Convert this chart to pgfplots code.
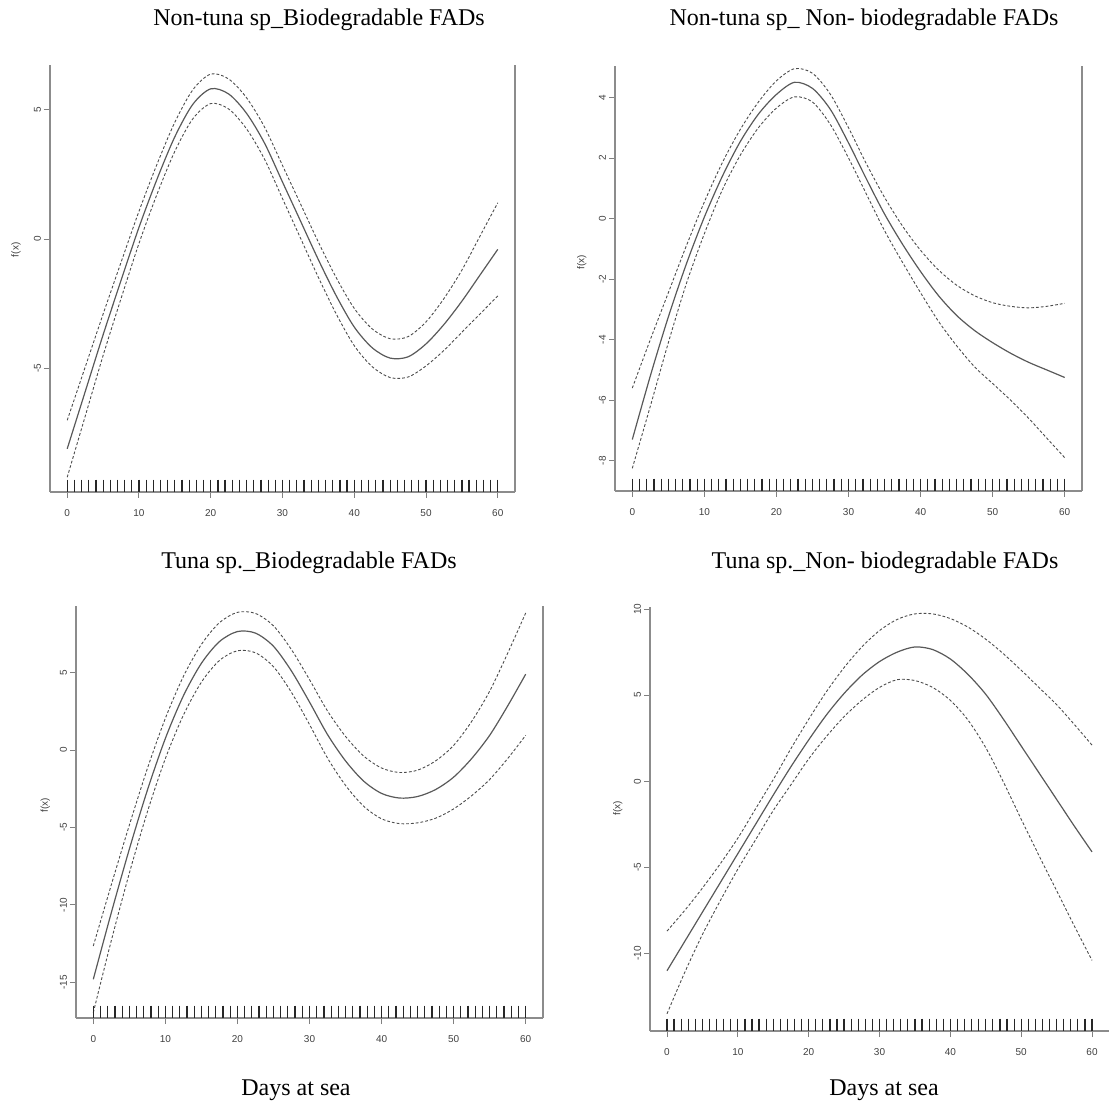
\documentclass[border=0pt]{standalone}
\usepackage{fontspec}
\setmainfont{Liberation Serif}
\newfontfamily\tickfont{Liberation Sans}
\usepackage{pgfplots}
\pgfplotsset{compat=1.18}
\usepackage{pgfplotstable}

% smooth term of days at sea: x, fit, upper and lower band
\pgfplotstableread{
x fit up lo
0 -8.1 -7.0 -9.2
2.5 -5.9 -4.95 -6.85
5 -3.7 -2.9 -4.5
7.5 -1.6 -0.9 -2.3
10 0.45 1.07 -0.17
12.5 2.3 2.88 1.72
15 3.95 4.51 3.39
17.5 5.2 5.76 4.64
20 5.8 6.37 5.23
22.5 5.6 6.18 5.02
25 4.85 5.45 4.25
27.5 3.7 4.32 3.08
30 2.2 2.84 1.56
32.5 0.7 1.36 0.04
35 -0.8 -0.12 -1.48
37.5 -2.2 -1.5 -2.9
40 -3.4 -2.68 -4.12
42.5 -4.2 -3.47 -4.93
45 -4.6 -3.85 -5.35
47.5 -4.55 -3.77 -5.33
50 -4.05 -3.2 -4.9
52.5 -3.3 -2.3 -4.3
55 -2.4 -1.2 -3.6
57.5 -1.4 0.1 -2.9
60 -0.4 1.4 -2.2
}\nontunabio

\pgfplotstableread{
x fit up lo
0 -7.3 -5.6 -8.25
2.5 -5.2 -4.0 -6.2
5 -3.25 -2.45 -4.1
7.5 -1.5 -0.9 -2.15
10 0.05 0.55 -0.5
12.5 1.4 1.85 0.95
15 2.55 2.95 2.1
17.5 3.45 3.85 3.0
20 4.1 4.55 3.65
22.5 4.5 4.95 4.02
25 4.3 4.8 3.85
27.5 3.6 4.1 3.1
30 2.5 3.0 2.0
32.5 1.3 1.8 0.8
35 0.15 0.7 -0.4
37.5 -0.85 -0.25 -1.45
40 -1.75 -1.05 -2.45
42.5 -2.55 -1.7 -3.4
45 -3.2 -2.2 -4.2
47.5 -3.7 -2.55 -4.9
50 -4.1 -2.78 -5.45
52.5 -4.45 -2.9 -6.0
55 -4.75 -2.95 -6.6
57.5 -5.0 -2.9 -7.25
60 -5.25 -2.8 -7.9
}\nontunanon

\pgfplotstableread{
x fit up lo
0 -14.8 -12.65 -16.95
2.5 -10.5 -8.7 -12.3
5 -6.4 -4.85 -7.95
7.5 -2.6 -1.2 -4.0
10 0.75 2.05 -0.55
12.5 3.5 4.75 2.25
15 5.6 6.82 4.38
17.5 7.0 8.22 5.78
20 7.65 8.89 6.41
22.5 7.55 8.82 6.28
25 6.7 8.02 5.38
27.5 5.1 6.48 3.72
30 3.1 4.55 1.65
32.5 1.0 2.52 -0.52
35 -0.7 0.88 -2.28
37.5 -2.0 -0.38 -3.62
40 -2.8 -1.16 -4.44
42.5 -3.1 -1.45 -4.75
45 -3.0 -1.3 -4.7
47.5 -2.55 -0.7 -4.4
50 -1.75 0.3 -3.8
52.5 -0.55 1.85 -2.95
55 0.95 3.8 -1.9
57.5 2.85 6.25 -0.55
60 4.9 8.85 0.95
}\tunabio

\pgfplotstableread{
x fit up lo
0 -11.0 -8.7 -13.5
2.5 -9.3 -7.5 -11.1
5 -7.6 -6.2 -8.9
7.5 -5.9 -4.8 -6.95
10 -4.2 -3.3 -5.1
12.5 -2.5 -1.6 -3.4
15 -0.8 0.1 -1.7
17.5 0.85 1.9 -0.2
20 2.4 3.6 1.3
22.5 3.85 5.2 2.6
25 5.1 6.6 3.75
27.5 6.15 7.8 4.7
30 6.95 8.75 5.45
32.5 7.5 9.4 5.9
35 7.8 9.72 5.85
37.5 7.65 9.72 5.45
40 7.1 9.45 4.7
42.5 6.2 8.95 3.55
45 5.05 8.25 1.95
47.5 3.6 7.4 -0.05
50 2.05 6.45 -2.2
52.5 0.5 5.45 -4.3
55 -1.05 4.45 -6.35
57.5 -2.6 3.3 -8.4
60 -4.1 2.1 -10.4
}\tunanon

% rug: observed days at sea (n = 1 per tick)
\pgfplotstableread{
d n
0 1
1 1
2 1
3 1
4 1
5 1
6 1
7 1
8 1
9 1
10 1
11 1
12 1
13 1
14 1
15 1
16 1
17 1
18 1
19 1
20 1
21 1
22 1
23 1
24 1
25 1
26 1
27 1
28 1
29 1
30 1
31 1
32 1
33 1
34 1
35 1
36 1
37 1
38 1
39 1
40 1
41 1
42 1
43 1
44 1
45 1
46 1
47 1
48 1
49 1
50 1
51 1
52 1
53 1
54 1
55 1
56 1
57 1
58 1
59 1
60 1
}\rugdays

\pgfplotsset{
  gam/.style={
    scale only axis,
    anchor=south west,
    axis x line*=bottom, axis y line*=left,
    axis line style={black!45, line width=0.6pt},
    xmin=-2.4, xmax=62.4, xtick={0,10,...,60},
    tick align=outside, major tick length=3pt,
    every tick/.style={black!50, line width=0.5pt},
    tick label style={font=\tickfont\fontsize{5}{6}\selectfont, text=black!75},
    /pgf/number format/assume math mode=true,
    xticklabel style={yshift=-2pt},
    yticklabel style={xshift=2pt, rotate=90, anchor=south},
    ylabel={f(x)},
    label style={font=\tickfont\fontsize{5}{6}\selectfont, text=black!75},
    clip=false,
  },
  fitline/.style={black!65, line width=0.6pt, smooth},
  band/.style={black!70, line width=0.45pt, dash pattern=on 1.4pt off 1pt, smooth},
  rug/.style={black!85, only marks, mark=|, mark size=3.1pt, mark options={yshift=3.1pt, line width=0.6pt}},
}

\begin{document}
\begin{tikzpicture}
\useasboundingbox (0,0) rectangle (556.5pt,554pt);

% top left
\begin{axis}[gam, at={(25pt,308pt)}, width=232.5pt, height=213.5pt,
  ymin=-9.77, ymax=6.72, ytick={-5,0,5},
  ylabel style={at={(axis description cs:-0.073,0.567)}, anchor=center}]
\addplot[band] table[x=x, y=up] {\nontunabio};
\addplot[band] table[x=x, y=lo] {\nontunabio};
\addplot[fitline] table[x=x, y=fit] {\nontunabio};
\addplot[rug] table[x=d, y expr=-9.77] {\rugdays};
\draw[black!45, line width=0.6pt] (rel axis cs:1,0) -- (rel axis cs:1,1);
\end{axis}

% top right
\begin{axis}[gam, at={(307.5pt,308.5pt)}, width=233.5pt, height=212.5pt,
  ymin=-9.0, ymax=5.04, ytick={-8,-6,...,4},
  ylabel style={at={(axis description cs:-0.071,0.539)}, anchor=center}]
\addplot[band] table[x=x, y=up] {\nontunanon};
\addplot[band] table[x=x, y=lo] {\nontunanon};
\addplot[fitline] table[x=x, y=fit] {\nontunanon};
\addplot[rug] table[x=d, y expr=-9.0] {\rugdays};
\draw[black!45, line width=0.6pt] (rel axis cs:1,0) -- (rel axis cs:1,1);
\end{axis}

% bottom left
\begin{axis}[gam, at={(38pt,45pt)}, width=233.5pt, height=206pt,
  ymin=-17.3, ymax=9.3, ytick={-15,-10,...,5},
  ylabel style={at={(axis description cs:-0.066,0.517)}, anchor=center}]
\addplot[band] table[x=x, y=up] {\tunabio};
\addplot[band] table[x=x, y=lo] {\tunabio};
\addplot[fitline] table[x=x, y=fit] {\tunabio};
\addplot[rug] table[x=d, y expr=-17.3] {\rugdays};
\draw[black!45, line width=0.6pt] (rel axis cs:1,0) -- (rel axis cs:1,1);
\end{axis}

% bottom right
\begin{axis}[gam, at={(325pt,38.5pt)}, width=229.5pt, height=212pt,
  ymin=-14.5, ymax=10.12, ytick={-10,-5,...,10},
  ylabel style={at={(axis description cs:-0.07,0.526)}, anchor=center}]
\addplot[band] table[x=x, y=up] {\tunanon};
\addplot[band] table[x=x, y=lo] {\tunanon};
\addplot[fitline] table[x=x, y=fit] {\tunanon};
\addplot[rug] table[x=d, y expr=-14.5] {\rugdays};
\end{axis}

\begin{scope}[every node/.style={font=\fontsize{12}{14}\selectfont, inner sep=0pt}]
\node at (159.5pt,544pt) {Non-tuna sp\_Biodegradable FADs};
\node at (432pt,544pt) {Non-tuna sp\_ Non- biodegradable FADs};
\node at (154.5pt,272.5pt) {Tuna sp.\_Biodegradable FADs};
\node at (442.5pt,272.5pt) {Tuna sp.\_Non- biodegradable FADs};
\node at (148pt,9pt) {Days at sea};
\node at (442pt,9pt) {Days at sea};
\end{scope}
\end{tikzpicture}
\end{document}
